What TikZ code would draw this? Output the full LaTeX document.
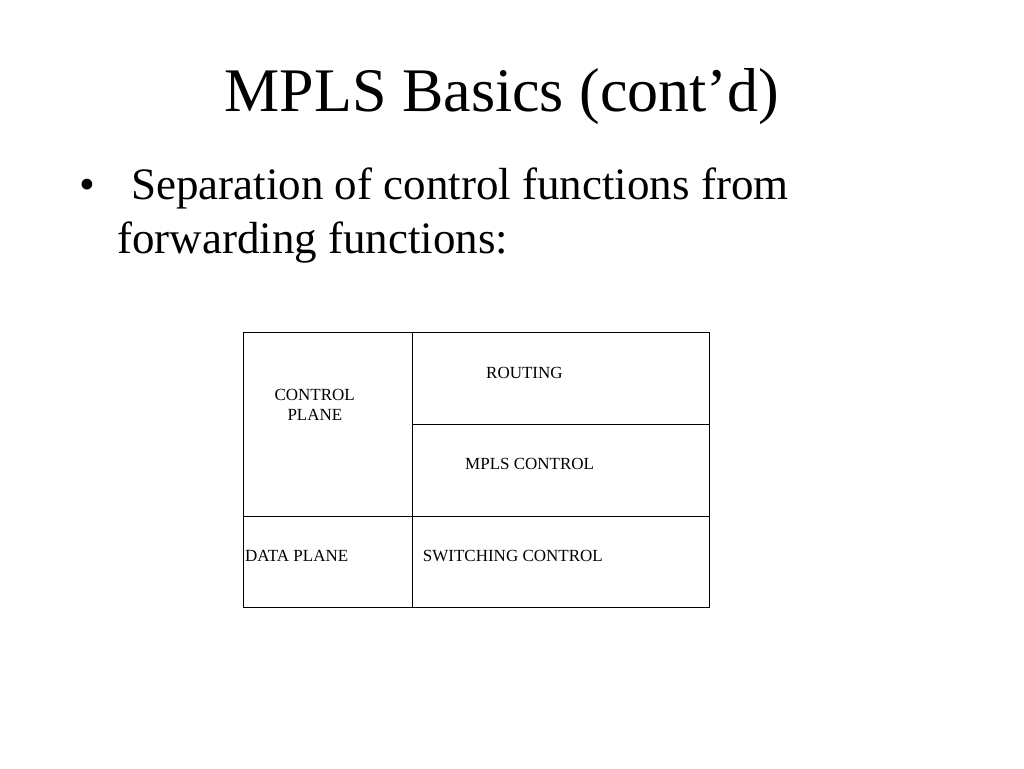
\documentclass[tikz,border=0pt]{standalone}
\usepackage{fontspec}
\setmainfont{Liberation Serif}
\begin{document}
\begin{tikzpicture}[x=1pt,y=1pt,
  lbl/.style={anchor=base west,inner sep=0pt,font=\fontsize{17}{20}\selectfont},
  body/.style={anchor=base west,inner sep=0pt,font=\fontsize{45}{54}\selectfont},
  grid/.style={line width=1pt,black}]
\useasboundingbox[fill=white] (0,0) rectangle (1024,768);
\node[anchor=base,inner sep=0pt,font=\fontsize{62}{74}\selectfont] (title) at (502,656) {MPLS Basics (cont’d)};
\node[body] (bul) at (79,568) {•};
\node[body] (l1) at (131,568) {Separation of control functions from};
\node[body] (l2) at (117,514) {forwarding functions:};
% table
\coordinate (tl) at (243,435.5);
\coordinate (br) at (709,160);
\draw[grid] (tl) rectangle (br);
\coordinate (m1) at (412,435.5);
\coordinate (m2) at (412,160);
\draw[grid] (m1) -- (m2);
\coordinate (h1) at (412,343.7);
\coordinate (h2) at (709,343.7);
\draw[grid] (h1) -- (h2);
\coordinate (g1) at (243,251.5);
\coordinate (g2) at (709,251.5);
\draw[grid] (g1) -- (g2);
\node[lbl] (routing) at (486,389.7) {ROUTING};
\node[lbl] (cp1) at (274.3,367) {CONTROL};
\node[lbl] (cp2) at (287.3,347) {PLANE};
\node[lbl] (mpls) at (465,298) {MPLS CONTROL};
\node[lbl] (data) at (245,206.3) {DATA PLANE};
\node[lbl] (sw) at (422.7,206.3) {SWITCHING CONTROL};
\end{tikzpicture}
\end{document}
